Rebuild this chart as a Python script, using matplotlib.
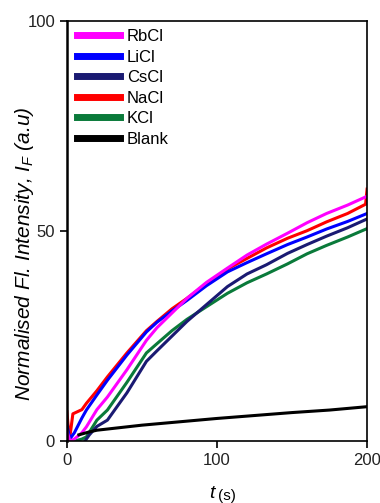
import numpy as np
import matplotlib.pyplot as plt

plt.rcParams['font.family'] = ['Liberation Sans', 'DejaVu Sans']
plt.rcParams['mathtext.fontset'] = 'custom'
plt.rcParams['mathtext.rm'] = 'Liberation Sans'
plt.rcParams['mathtext.it'] = 'Liberation Sans:italic'

# --- values (t in s, normalised intensity) ---
t_li = [0, 2, 5, 10, 13, 20, 27, 40, 53, 60, 70, 80, 93, 107, 120, 133, 147, 160, 173, 187, 200]
licl = [4, 0.5, 2, 5.5, 7.4, 11, 14.5, 20.5, 26, 28.3, 31, 33.5, 37, 40.3, 42.5, 44.6, 46.8, 48.6, 50.5, 52.3, 54.2]

t_na = [0, 1, 2, 4, 10, 13, 20, 27, 40, 53, 60, 70, 80, 93, 107, 120, 133, 147, 160, 173, 187, 199, 200]
nacl = [7, 3, 1, 6.5, 7.5, 9, 12, 15.3, 21, 26.3, 28.5, 31.5, 34, 37.5, 41, 43.5, 46, 48.3, 50.1, 52.2, 54.2, 56.4, 60]

t_rb = [0, 2, 5, 10, 13, 20, 27, 40, 53, 60, 70, 80, 93, 107, 120, 133, 147, 160, 173, 187, 200]
rbcl = [2.5, 0, 0.5, 2, 3.4, 7.5, 10.5, 17, 24, 27, 30.5, 34, 37.8, 41.2, 44.3, 46.9, 49.5, 52, 54.2, 56.2, 58.3]

t_k = [5, 10, 13, 20, 27, 40, 53, 60, 70, 80, 93, 107, 120, 133, 147, 160, 173, 187, 200]
kcl = [0, 0.5, 1, 5, 7.4, 14, 21, 23.2, 26.3, 29, 32, 35.2, 37.7, 39.8, 42.2, 44.6, 46.6, 48.6, 50.6]

t_cs = [12, 15, 20, 27, 40, 53, 60, 70, 80, 93, 107, 120, 133, 147, 160, 173, 187, 200]
cscl = [0, 1.5, 3.5, 5, 11.5, 19, 21.5, 25, 28.5, 32.5, 36.8, 39.8, 42, 44.7, 46.8, 48.8, 50.8, 52.9]

t_bl = [8, 15, 20, 30, 50, 75, 100, 125, 150, 175, 200]
blank = [1.5, 2.2, 2.6, 3, 3.8, 4.6, 5.4, 6.1, 6.8, 7.4, 8.2]

c_rb = '#ff00ff'
c_li = '#0000ff'
c_cs = '#1a1a72'
c_na = '#ff0000'
c_k = '#0a7a3a'
c_bl = '#000000'

fig = plt.figure(figsize=(3.8, 5.03), dpi=100)
ax = fig.add_axes([0.176, 0.123, 0.79, 0.835])

lw = 2.2
ax.plot(t_k, kcl, color=c_k, lw=lw)
ax.plot(t_cs, cscl, color=c_cs, lw=lw)
ax.plot(t_na, nacl, color=c_na, lw=lw)
ax.plot(t_li, licl, color=c_li, lw=lw)
ax.plot(t_rb, rbcl, color=c_rb, lw=lw)
ax.plot(t_bl, blank, color=c_bl, lw=lw)

# legend in the reference order
handles = [plt.Line2D([], [], color=c, lw=5) for c in [c_rb, c_li, c_cs, c_na, c_k, c_bl]]
labels = ['RbCl', 'LiCl', 'CsCl', 'NaCl', 'KCl', 'Blank']
ax.legend(handles, labels, loc='upper left', frameon=False, fontsize=12,
          handlelength=2.6, handletextpad=0.4, labelspacing=0.33,
          borderaxespad=0.2, bbox_to_anchor=(0.0, 1.005))

ax.set_xlim(0, 200)
ax.set_ylim(0, 100)
ax.set_xticks([0, 100, 200])
ax.set_yticks([0, 50, 100])
ax.tick_params(direction='out', length=5, width=1.2, labelsize=12, labelcolor='#222222')
for s in ax.spines.values():
    s.set_linewidth(1.2)
ax.spines['left'].set_linewidth(1.8)

# x label: large italic t, smaller (s)
ax.text(0.5, -0.125, r'$t$', transform=ax.transAxes, fontsize=14,
        ha='right', va='center')
ax.text(0.505, -0.13, '(s)', transform=ax.transAxes, fontsize=11,
        ha='left', va='center')
ax.set_ylabel(r'Normalised Fl. Intensity, $I_F$ (a.u)', fontsize=15,
              style='italic', va='center')
ax.yaxis.set_label_coords(-0.14, 0.445)

fig.savefig('out.png', dpi=100)
